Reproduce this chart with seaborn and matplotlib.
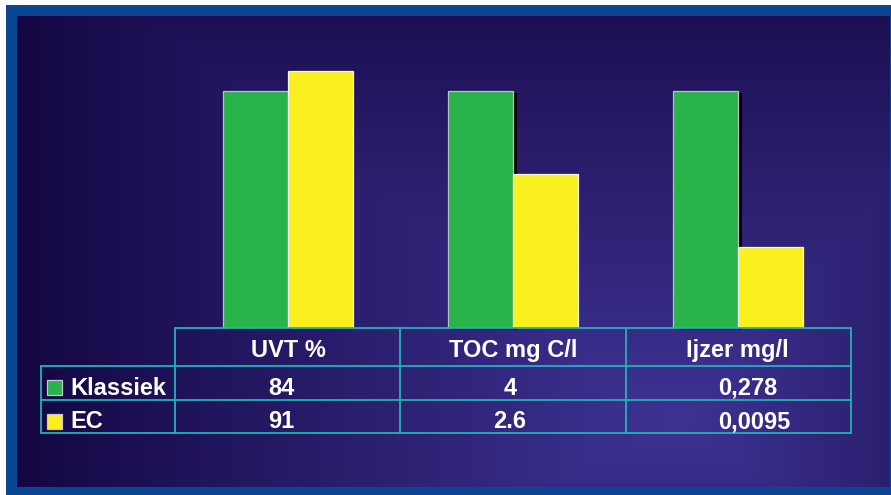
import numpy as np
import pandas as pd
import matplotlib
matplotlib.use("Agg")
import matplotlib.pyplot as plt
from matplotlib.patches import Rectangle
from matplotlib.transforms import offset_copy
import seaborn as sns

# Measured parameters and the two treatment methods
categories = ["UVT %", "TOC mg C/l", "Ijzer mg/l"]
series = ["Klassiek", "EC"]
klassiek_text = ["84", "4", "0,278"]
ec_text = ["91", "2.6", "0,0095"]
# Bar heights as a percentage of the Klassiek result
klassiek_pct = [100.0, 100.0, 100.0]
ec_pct = [108.3, 65.0, 34.0]

GREEN = "#2ab24b"
YELLOW = "#fbf01f"
LINE = "#1fb4b6"
BORDER = "#0a4694"

sns.set_theme(style="white")
plt.rcParams["font.family"] = ["Liberation Sans", "DejaVu Sans"]

W, H = 891, 495
fig = plt.figure(figsize=(W / 100, H / 100), dpi=100)
fig.patch.set_facecolor("white")

# ---- background panel with a path-style gradient ----
bg = fig.add_axes([0, 0, 1, 1])
bg.set_xlim(0, W)
bg.set_ylim(H, 0)
bg.axis("off")
bg.add_patch(Rectangle((6, 5), W - 6, H - 5, facecolor=BORDER, edgecolor="none"))

x0, x1, y0, y1 = 17, 890, 16, 487
xs = np.arange(x0, x1) + 0.5
ys = np.arange(y0, y1) + 0.5
X, Y = np.meshgrid(xs, ys)
cx, cy = 680.0, 420.0
dx = np.where(X < cx, (cx - X) / (cx - x0 + 10), (X - cx) / 450.0)
dy = np.where(Y < cy, (cy - Y) / 500.0, (Y - cy) / 320.0)
d = np.clip(np.maximum(dx, dy), 0, 1)
t = (1 - d) ** 0.9
dark = np.array([0x12, 0x05, 0x40]) / 255.0
light = np.array([0x3e, 0x33, 0x93]) / 255.0
img = dark[None, None, :] + (light - dark)[None, None, :] * t[..., None]
bg.imshow(img, extent=(x0, x1, y1, y0), aspect="auto", interpolation="bilinear", zorder=1)

# ---- bars ----
df = pd.DataFrame({
    "category": categories * 2,
    "series": [series[0]] * 3 + [series[1]] * 3,
    "pct": klassiek_pct + ec_pct,
})

base_y, top_y = 328, 16
full_h = 237.0
ax = fig.add_axes([175.5 / W, (H - base_y) / H, 675 / W, (base_y - top_y) / H])
ax.patch.set_alpha(0)
sns.barplot(data=df, x="category", y="pct", hue="series", order=categories,
            hue_order=series, palette=[GREEN, YELLOW], width=130 / 225,
            saturation=1, legend=False, ax=ax, linewidth=0)
ax.set_xlim(-0.5, 2.5)
ax.set_ylim(0, (base_y - top_y) / full_h * 100)
ax.axis("off")

# drop shadow behind the Klassiek bars, offset a few pixels right and down
shadow_tf = offset_copy(ax.transData, fig=fig, x=3.5, y=-2, units="dots")
for bar in ax.containers[0]:
    bar.set_edgecolor("#b9c0c8")
    bar.set_linewidth(0.9)
    bar.set_zorder(3)
    ax.add_patch(Rectangle(bar.get_xy(), bar.get_width(), bar.get_height(),
                           transform=shadow_tf, facecolor="black", edgecolor="none",
                           zorder=2, clip_on=False))
for bar in ax.containers[1]:
    bar.set_edgecolor("#f4f4f4")
    bar.set_linewidth(0.9)
    bar.set_zorder(4)

# ---- data table ----
tb = fig.add_axes([0, 0, 1, 1])
tb.set_xlim(0, W)
tb.set_ylim(H, 0)
tb.axis("off")
tb.patch.set_alpha(0)

col_x = [175, 400, 626, 851]
row_y = [328, 366, 400, 433]
lw = 1.3
tb.plot([col_x[0], col_x[-1]], [row_y[0]] * 2, color=LINE, lw=lw)
for yy in row_y[1:]:
    tb.plot([41, col_x[-1]], [yy, yy], color=LINE, lw=lw)
tb.plot([41, 41], [row_y[1], row_y[-1]], color=LINE, lw=lw)
for xx in col_x:
    tb.plot([xx, xx], [row_y[0], row_y[-1]], color=LINE, lw=lw)

fs = 17
txt = dict(color="white", fontsize=fs, fontweight="bold", va="baseline")
header_x = [288, 513, 737]
for label, hx in zip(categories, header_x):
    tb.text(hx, 357, label, ha="center", **txt)

value_pos = [(281, "center"), (510, "center"), (718, "left")]
for vals, yy in [(klassiek_text, 395), (ec_text, 428)]:
    for v, (vx, ha) in zip(vals, value_pos):
        tb.text(vx, yy, v, ha=ha, **txt)

for name, color, yy in [(series[0], GREEN, 387.5), (series[1], YELLOW, 421)]:
    tb.add_patch(Rectangle((47, yy - 7.5), 15, 15, facecolor=color, edgecolor="#c8c8c8", lw=0.9))
for name, yy in [(series[0], 395), (series[1], 428)]:
    tb.text(70, yy, name, ha="left", **txt)

fig.savefig("out.png", dpi=100)
